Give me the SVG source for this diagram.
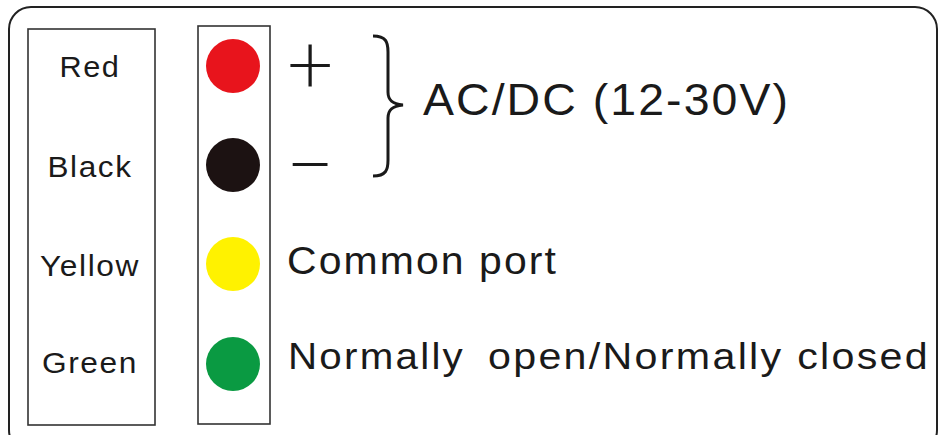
<svg xmlns="http://www.w3.org/2000/svg" width="940" height="435" viewBox="0 0 940 435">
<style>
.frame{fill:none;stroke:#222;stroke-width:2}
.box{fill:#fff;stroke:#333;stroke-width:1.6}
.lbl{font-family:"Liberation Sans",Arial,sans-serif;fill:#1a1a1a;text-anchor:middle;letter-spacing:1.5px}
.txt{font-family:"Liberation Sans",Arial,sans-serif;fill:#1a1a1a;letter-spacing:2px}
.sym{font-family:Lato,Inter,"Liberation Sans",sans-serif;font-weight:300;fill:#1a1a1a;text-anchor:middle}
</style>
<rect width="940" height="435" fill="#fff"/>
<rect class="frame" x="9" y="7" width="928" height="445" rx="22"/>
<g id="labels">
<rect class="box" x="28" y="29" width="127" height="396"/>
<text class="lbl" x="90" y="77" font-size="29" textLength="61" lengthAdjust="spacingAndGlyphs">Red</text>
<text class="lbl" x="90" y="177" font-size="30" textLength="85" lengthAdjust="spacingAndGlyphs">Black</text>
<text class="lbl" x="90" y="276" font-size="30" textLength="100" lengthAdjust="spacingAndGlyphs">Yellow</text>
<text class="lbl" x="90" y="373" font-size="30" textLength="96" lengthAdjust="spacingAndGlyphs">Green</text>
</g>
<g id="wires">
<rect class="box" x="198" y="26" width="72" height="398"/>
<circle cx="233" cy="66" r="27" fill="#e8141c"/>
<circle cx="233" cy="165" r="27" fill="#1c1212"/>
<circle cx="233" cy="264" r="27" fill="#fff200"/>
<circle cx="233" cy="364" r="27" fill="#0a9a42"/>
</g>
<g id="power">
<text class="sym" x="310" y="94" font-size="84">+</text>
<text class="sym" x="310" y="193" font-size="84">−</text>
<path d="M373,36 C386,36 388,42 388,52 L388,92 C388,100 392,104 403,105 C392,106 388,110 388,118 L388,160 C388,170 386,176 373,176" fill="none" stroke="#1a1a1a" stroke-width="3"/>
<text class="txt" x="423" y="115" font-size="45" textLength="367" lengthAdjust="spacingAndGlyphs">AC/DC (12-30V)</text>
</g>
<g id="common">
<text class="txt" x="287" y="274" font-size="39" textLength="271" lengthAdjust="spacingAndGlyphs">Common port</text>
</g>
<g id="nonc">
<text class="txt" x="288" y="369" font-size="36" textLength="177" lengthAdjust="spacingAndGlyphs">Normally</text>
<text class="txt" x="488" y="369" font-size="36" textLength="442" lengthAdjust="spacingAndGlyphs">open/Normally closed</text>
</g>
</svg>
